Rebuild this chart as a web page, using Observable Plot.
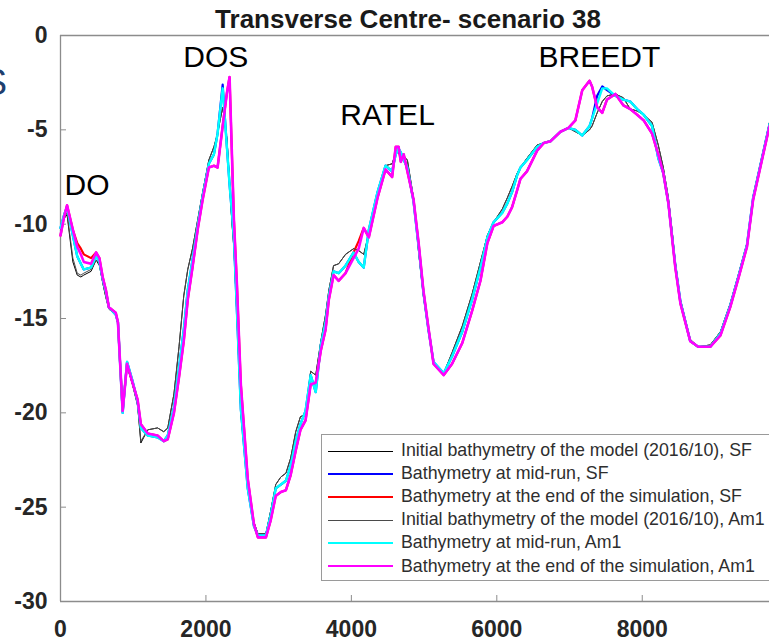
<!DOCTYPE html>
<html>
<head>
<meta charset="utf-8">
<script src="https://cdn.jsdelivr.net/npm/d3@7"></script>
<script src="https://cdn.jsdelivr.net/npm/@observablehq/plot@0.6"></script>
<style>
  body { margin: 0; background: #fff; }
  #wrap { position: relative; width: 769px; height: 644px; overflow: hidden; font-family: "Liberation Sans", Arial, sans-serif; }
  #cut { position: absolute; left: -17px; top: 62px; font-size: 36px; color: #1f3f6e; font-family: "Liberation Sans", Arial, sans-serif; }
  #legend { position: absolute; left: 321px; top: 434px; width: 470px; height: 147px; border: 1.5px solid #9a9a9a; background: #fff; box-sizing: border-box; }
  .item { position: absolute; left: 0; height: 23px; width: 460px; }
  .swatch { position: absolute; left: 6px; width: 65px; top: 11px; }
  .lab { position: absolute; left: 79px; top: 0px; font-size: 17.8px; color: #2e2e2e; white-space: nowrap; }
</style>
</head>
<body>
<div id="wrap">
  <div id="chart"></div>
  <div id="cut">S</div>
  <div id="legend"></div>
</div>
<script>
const title = "Transverse Centre- scenario 38";
const xTicks = [0, 2000, 4000, 6000, 8000];
const yTicks = [0, -5, -10, -15, -20, -25, -30];

const annotationNames = ["DO", "DOS", "RATEL", "BREEDT"];
const annotationX = [364, 2136, 4498, 7411];
const annotationY = [-7.95, -1.17, -4.24, -1.17];

const distance = [
  0,50,90,170,230,280,320,420,490,535,
  580,625,665,760,790,855,915,990,1060,1105,
  1200,1335,1420,1475,1560,1630,1695,1750,1815,1890,
  1955,2040,2110,2160,2230,2290,2325,2355,2385,2425,
  2480,2575,2660,2715,2825,2890,2960,3030,3100,3165,
  3235,3300,3370,3440,3510,3580,3645,3690,3755,3825,
  3920,4030,4100,4170,4240,4360,4470,4560,4610,4650,
  4680,4720,4770,4855,4925,4990,5060,5130,5270,5385,
  5525,5660,5775,5870,5955,6075,6145,6210,6280,6325,
  6415,6555,6645,6740,6875,6985,7080,7175,7275,7310,
  7380,7450,7515,7630,7740,7835,7930,8020,8135,8220,
  8290,8360,8415,8455,8525,8660,8770,8935,9075,9210,
  9320,9440,9525,9750
];

const initSF = [
  -10.2,-9.7,-9.5,-12.0,-12.7,-12.8,-12.7,-12.5,-11.9,-12.2,
  -13.1,-13.9,-14.5,-14.8,-15.3,-19.6,-17.5,-18.5,-19.6,-21.6,
  -20.9,-20.8,-21.0,-20.8,-19.0,-16.5,-13.8,-12.4,-11.3,-9.7,
  -8.3,-6.6,-5.9,-5.2,-3.8,-5.5,-7.8,-9.8,-11.3,-14.8,
  -20.0,-24.0,-25.8,-26.4,-26.4,-25.2,-23.8,-23.4,-23.2,-22.4,
  -21.0,-20.2,-20.1,-17.8,-18.0,-16.2,-14.8,-13.5,-12.2,-12.1,
  -11.6,-11.3,-11.4,-11.6,-10.5,-8.4,-6.9,-6.8,-6.2,-6.2,
  -6.5,-6.4,-6.6,-8.6,-11.5,-13.8,-15.7,-17.3,-17.9,-16.8,
  -15.4,-13.7,-12.0,-10.6,-9.9,-9.2,-8.6,-8.0,-7.3,-7.0,
  -6.5,-5.8,-5.7,-5.6,-5.1,-4.9,-5.1,-5.3,-5.0,-4.8,
  -4.1,-3.5,-3.2,-3.1,-3.3,-3.9,-4.0,-4.2,-4.6,-5.8,
  -7.0,-8.6,-10.5,-12.0,-14.0,-16.1,-16.5,-16.4,-15.7,-14.2,
  -12.7,-11.0,-8.5,-4.6
];

const midSF = [
  -10.2,-9.5,-9.1,-10.6,-11.7,-12.1,-12.4,-12.3,-11.7,-12.0,
  -12.9,-13.6,-14.4,-14.8,-15.2,-20.0,-17.3,-18.3,-19.4,-20.8,
  -21.2,-21.3,-21.5,-21.2,-19.7,-17.6,-15.6,-13.5,-11.9,-10.0,
  -8.5,-6.8,-6.3,-5.2,-2.6,-6.0,-7.9,-9.3,-10.8,-14.5,
  -19.8,-24.0,-26.0,-26.5,-26.5,-25.4,-24.0,-23.8,-23.6,-22.8,
  -21.5,-20.6,-19.9,-18.0,-18.9,-16.4,-15.2,-13.8,-12.5,-12.6,
  -12.2,-11.5,-12.0,-12.3,-10.3,-8.3,-6.9,-7.2,-6.3,-6.0,
  -6.2,-6.6,-7.0,-8.8,-11.2,-13.6,-15.6,-17.3,-17.9,-17.0,
  -15.7,-14.0,-12.3,-10.7,-9.9,-9.4,-8.9,-8.3,-7.4,-7.0,
  -6.6,-5.9,-5.7,-5.6,-5.1,-4.9,-5.0,-5.3,-4.8,-4.4,
  -3.2,-2.7,-2.9,-3.2,-3.4,-3.5,-3.9,-4.2,-4.8,-6.5,
  -7.3,-8.9,-10.8,-12.2,-14.1,-16.2,-16.5,-16.5,-15.8,-14.3,
  -12.8,-11.1,-8.6,-4.7
];

const endSF = [
  -10.6,-9.6,-9.0,-10.3,-11.0,-11.3,-11.6,-11.8,-11.5,-11.8,
  -12.8,-13.5,-14.4,-14.7,-15.2,-19.9,-17.4,-18.4,-19.3,-20.6,
  -21.1,-21.2,-21.5,-21.4,-20.0,-18.1,-16.2,-14.0,-12.3,-10.2,
  -8.7,-7.0,-6.9,-7.0,-4.8,-3.0,-2.2,-6.0,-9.8,-13.1,
  -18.5,-23.5,-25.9,-26.6,-26.6,-25.7,-24.4,-24.2,-24.1,-23.3,
  -22.0,-20.9,-20.4,-18.5,-18.4,-16.7,-15.6,-14.0,-12.7,-13.0,
  -12.6,-11.5,-10.9,-10.2,-10.7,-8.6,-7.1,-7.5,-5.9,-5.9,
  -6.7,-6.3,-7.2,-8.7,-11.0,-13.5,-15.5,-17.4,-18.0,-17.4,
  -16.3,-14.6,-13.0,-11.0,-10.1,-9.9,-9.6,-9.1,-8.2,-7.6,
  -7.2,-6.1,-5.7,-5.6,-5.1,-4.9,-4.5,-2.9,-2.4,-2.7,
  -3.8,-4.1,-3.4,-3.1,-3.7,-3.9,-4.2,-4.5,-5.2,-6.3,
  -7.3,-8.9,-10.9,-12.3,-14.2,-16.2,-16.5,-16.5,-15.9,-14.4,
  -12.9,-11.2,-8.7,-4.8
];

const initAm1 = [
  -10.3,-9.7,-9.4,-11.8,-12.6,-12.7,-12.6,-12.4,-11.9,-12.1,
  -13.1,-13.9,-14.5,-14.8,-15.3,-19.6,-17.5,-18.5,-19.6,-21.5,
  -20.9,-20.8,-21.0,-20.8,-19.0,-16.5,-13.8,-12.4,-11.3,-9.7,
  -8.3,-6.6,-5.9,-5.2,-3.8,-5.5,-7.8,-9.8,-11.3,-14.8,
  -20.0,-24.0,-25.8,-26.4,-26.4,-25.2,-23.8,-23.4,-23.2,-22.4,
  -21.0,-20.2,-20.1,-17.8,-18.0,-16.2,-14.8,-13.5,-12.2,-12.1,
  -11.6,-11.3,-11.4,-11.6,-10.5,-8.4,-6.9,-6.8,-6.2,-6.2,
  -6.5,-6.4,-6.6,-8.6,-11.5,-13.8,-15.7,-17.3,-17.9,-16.8,
  -15.4,-13.7,-12.0,-10.6,-9.9,-9.2,-8.6,-8.0,-7.3,-7.0,
  -6.5,-5.8,-5.7,-5.6,-5.1,-4.9,-5.1,-5.3,-5.0,-4.8,
  -4.1,-3.5,-3.2,-3.1,-3.3,-3.9,-4.0,-4.2,-4.6,-5.8,
  -7.0,-8.6,-10.5,-12.0,-14.0,-16.1,-16.5,-16.4,-15.7,-14.2,
  -12.7,-11.0,-8.5,-4.6
];

const midAm1 = [
  -10.2,-9.5,-9.1,-10.6,-11.7,-12.1,-12.4,-12.3,-11.7,-12.0,
  -12.9,-13.6,-14.4,-14.8,-15.2,-20.0,-17.3,-18.3,-19.4,-20.8,
  -21.2,-21.3,-21.5,-21.2,-19.7,-17.6,-15.6,-13.5,-11.9,-10.0,
  -8.5,-6.8,-6.3,-5.2,-2.8,-6.0,-7.9,-9.3,-10.8,-14.5,
  -19.8,-24.0,-26.0,-26.5,-26.5,-25.4,-24.0,-23.8,-23.6,-22.8,
  -21.5,-20.6,-19.9,-18.0,-18.9,-16.4,-15.2,-13.8,-12.5,-12.6,
  -12.2,-11.5,-12.0,-12.3,-10.3,-8.3,-6.9,-7.2,-6.3,-6.0,
  -6.2,-6.6,-7.0,-8.8,-11.2,-13.6,-15.6,-17.3,-17.9,-17.0,
  -15.7,-14.0,-12.3,-10.7,-9.9,-9.4,-8.9,-8.3,-7.4,-7.0,
  -6.6,-5.9,-5.7,-5.6,-5.1,-4.9,-5.0,-5.3,-4.8,-4.4,
  -3.6,-2.8,-2.8,-3.2,-3.4,-3.5,-3.9,-4.2,-4.8,-6.5,
  -7.3,-8.9,-10.8,-12.2,-14.1,-16.2,-16.5,-16.5,-15.8,-14.3,
  -12.8,-11.1,-8.6,-4.7
];

const endAm1 = [
  -10.6,-9.6,-9.0,-10.3,-11.2,-11.6,-12.0,-12.1,-11.5,-11.8,
  -12.8,-13.5,-14.4,-14.7,-15.2,-19.9,-17.4,-18.4,-19.3,-20.6,
  -21.1,-21.2,-21.5,-21.4,-20.0,-18.1,-16.2,-14.0,-12.3,-10.2,
  -8.7,-7.0,-6.9,-7.0,-4.8,-3.0,-2.2,-6.0,-9.8,-13.1,
  -18.5,-23.5,-25.9,-26.6,-26.6,-25.7,-24.4,-24.2,-24.1,-23.3,
  -22.0,-20.9,-20.4,-18.5,-18.4,-16.7,-15.6,-14.0,-12.7,-13.0,
  -12.6,-11.8,-11.3,-10.2,-10.7,-8.6,-7.1,-7.5,-5.9,-5.9,
  -6.7,-6.3,-7.2,-8.7,-11.0,-13.5,-15.5,-17.4,-18.0,-17.4,
  -16.3,-14.6,-13.0,-11.0,-10.1,-9.9,-9.6,-9.1,-8.2,-7.6,
  -7.2,-6.1,-5.7,-5.6,-5.1,-4.9,-4.5,-2.9,-2.4,-2.7,
  -3.8,-4.1,-3.4,-3.1,-3.7,-3.9,-4.2,-4.5,-5.2,-6.3,
  -7.3,-8.9,-10.9,-12.3,-14.2,-16.2,-16.5,-16.5,-15.9,-14.4,
  -12.9,-11.2,-8.7,-4.8
];

const seriesNames = [
  "Initial bathymetry of the model (2016/10), SF",
  "Bathymetry at mid-run, SF",
  "Bathymetry at the end of the simulation, SF",
  "Initial bathymetry of the model (2016/10), Am1",
  "Bathymetry at mid-run, Am1",
  "Bathymetry at the end of the simulation, Am1"
];
const seriesValues = [initSF, midSF, endSF, initAm1, midAm1, endAm1];
const seriesColors = ["#000000", "#0000ff", "#ff0000", "#4a4a4a", "#00ffff", "#ff00ff"];
const seriesWidths = [1, 2.2, 2.2, 1, 2.4, 2.6];

const lineMarks = seriesValues.map((vals, k) =>
  Plot.line(distance, {x: (d) => d, y: vals, stroke: seriesColors[k], strokeWidth: seriesWidths[k], strokeLinejoin: "round"})
);

const chart = Plot.plot({
  width: 769,
  height: 644,
  marginLeft: 60,
  marginRight: 0,
  marginTop: 35,
  marginBottom: 43,
  x: {domain: [0, 9750]},
  y: {domain: [-30, 0]},
  style: {fontFamily: "Liberation Sans, Arial, sans-serif", background: "white", overflow: "visible"},
  marks: [
    Plot.ruleX([0], {stroke: "#8c8c8c", strokeWidth: 1.3}),
    Plot.ruleY([0, -30], {stroke: "#8c8c8c", strokeWidth: 1.3}),
    Plot.axisX(xTicks, {tickSize: -6, tickPadding: 25, tickFormat: (d) => String(d), fontSize: 23, fontWeight: "bold", fill: "#262626", stroke: "#8c8c8c", label: null}),
    Plot.axisY(yTicks, {tickSize: -6, tickPadding: 19, tickFormat: (d) => String(d), fontSize: 23, fontWeight: "bold", fill: "#262626", stroke: "#8c8c8c", label: null}),
    ...lineMarks,
    Plot.text(annotationNames, {x: annotationX, y: annotationY, fontSize: 30, fill: "#000"}),
    Plot.text([title], {frameAnchor: "top", lineAnchor: "bottom", dy: -8, dx: -7, fontSize: 26, fontWeight: "bold", fill: "#1a1a1a"})
  ]
});
document.getElementById("chart").appendChild(chart);

const legend = document.getElementById("legend");
seriesNames.forEach((name, k) => {
  const item = document.createElement("div");
  item.className = "item";
  item.style.top = (5 + 23.1 * k) + "px";
  const sw = document.createElement("div");
  sw.className = "swatch";
  sw.style.borderTop = Math.max(1, seriesWidths[k]) + "px solid " + seriesColors[k];
  sw.style.marginTop = (-Math.max(1, seriesWidths[k]) / 2) + "px";
  const lab = document.createElement("div");
  lab.className = "lab";
  lab.textContent = name;
  item.appendChild(sw);
  item.appendChild(lab);
  legend.appendChild(item);
});
</script>
</body>
</html>
